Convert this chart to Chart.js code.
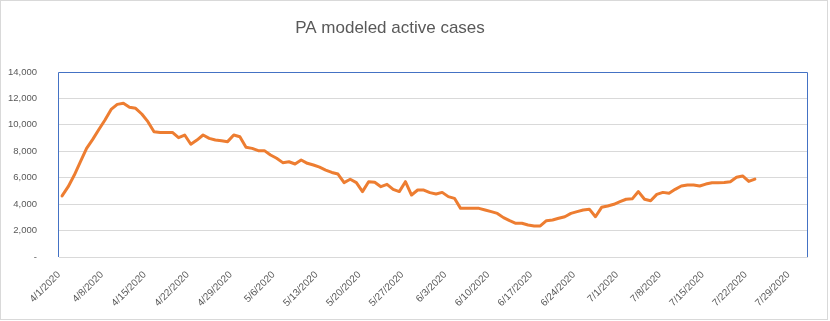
<!DOCTYPE html>
<html lang="en">
<head>
  <meta charset="UTF-8">
  <title>PA modeled active cases</title>
  <script src="https://cdn.jsdelivr.net/npm/chart.js"></script>
  <style>
    body { margin: 0; background: #fff; }
  </style>
</head>
<body>
<canvas id="casesChart" width="830" height="321"></canvas>

<script>
  // Weekly axis labels
  var tickLabels = ['4/1/2020', '4/8/2020', '4/15/2020', '4/22/2020', '4/29/2020', '5/6/2020',
    '5/13/2020', '5/20/2020', '5/27/2020', '6/3/2020', '6/10/2020', '6/17/2020', '6/24/2020',
    '7/1/2020', '7/8/2020', '7/15/2020', '7/22/2020', '7/29/2020'];

  // Modeled active cases, one value per day starting 4/1/2020
  var activeCases = [
    4620, 5320, 6200, 7210, 8220, 8900, 9650, 10370, 11170, 11550,
    11630, 11330, 11250, 10820, 10240, 9480, 9430, 9430, 9430, 9030,
    9230, 8530, 8850, 9230, 8980, 8850, 8790, 8730, 9230, 9100,
    8300, 8220, 8050, 8050, 7720, 7470, 7140, 7210, 7040, 7340,
    7090, 6960, 6800, 6580, 6400, 6280, 5630, 5880, 5630, 4950,
    5700, 5650, 5320, 5500, 5120, 4950, 5700, 4690, 5070, 5070,
    4870, 4770, 4890, 4570, 4440, 3680, 3680, 3680, 3680, 3560,
    3430, 3300, 2980, 2750, 2550, 2550, 2420, 2350, 2350, 2750,
    2800, 2930, 3050, 3300, 3430, 3560, 3620, 3050, 3760, 3860,
    3990, 4190, 4370, 4400, 4950, 4370, 4260, 4740, 4890, 4820,
    5120, 5370, 5450, 5450, 5370, 5520, 5620, 5620, 5630, 5700,
    6030, 6130, 5720, 5890
  ];

  var yTicks = [0, 2000, 4000, 6000, 8000, 10000, 12000, 14000];

  var fontFamily = "'Liberation Sans Narrow', 'Liberation Sans', sans-serif";
  var textColor = '#595959';

  // each day sits in the middle of its own slot on the date axis
  var points = activeCases.map(function(v, i) {
    return { x: i + 0.5, y: v };
  });

  // outer frame, plot border and the title
  var framePlugin = {
    id: 'frame',
    beforeDatasetsDraw: function(chart) {
      var ctx = chart.ctx, a = chart.chartArea;
      ctx.save();
      ctx.strokeStyle = '#4472C4';
      ctx.lineWidth = 1;
      ctx.beginPath();
      ctx.moveTo(a.left - 0.5, a.bottom);
      ctx.lineTo(a.left - 0.5, a.top + 0.5);
      ctx.lineTo(a.right + 0.5, a.top + 0.5);
      ctx.lineTo(a.right + 0.5, a.bottom);
      ctx.stroke();
      ctx.restore();
    },
    afterDraw: function(chart) {
      var ctx = chart.ctx;
      ctx.save();
      ctx.strokeStyle = '#D9D9D9';
      ctx.lineWidth = 1;
      ctx.strokeRect(0.5, 0.5, 827, 319);
      ctx.fillStyle = textColor;
      ctx.font = "17px " + fontFamily;
      ctx.textAlign = 'center';
      ctx.textBaseline = 'middle';
      ctx.fillText('PA modeled active cases', 390, 28);
      ctx.restore();
    }
  };

  var ctx = document.getElementById('casesChart').getContext('2d');
  new Chart(ctx, {
    type: 'line',
    data: {
      datasets: [{
        label: 'Active cases',
        data: points,
        borderColor: '#ED7D31',
        borderWidth: 3,
        borderJoinStyle: 'round',
        borderCapStyle: 'round',
        pointRadius: 0,
        tension: 0,
        fill: false
      }]
    },
    options: {
      responsive: false,
      animation: false,
      devicePixelRatio: 1,
      layout: { padding: { top: 72, right: 23, left: 0, bottom: 0 } },
      plugins: {
        legend: { display: false },
        title: { display: false },
        tooltip: { enabled: false }
      },
      scales: {
        x: {
          type: 'linear',
          min: 0,
          max: 122,
          afterBuildTicks: function(scale) {
            scale.ticks = tickLabels.map(function(_, i) { return { value: i * 7 }; });
          },
          afterFit: function(scale) { scale.height = 64; },
          grid: { display: false, drawTicks: false },
          border: { display: true, color: '#D9D9D9', width: 1 },
          ticks: {
            autoSkip: false,
            minRotation: 45,
            maxRotation: 45,
            padding: 12,
            color: textColor,
            font: { family: fontFamily, size: 10 },
            callback: function(value) { return tickLabels[Math.round(value / 7)]; }
          }
        },
        y: {
          min: 0,
          max: 14000,
          afterBuildTicks: function(scale) {
            scale.ticks = yTicks.map(function(v) { return { value: v }; });
          },
          afterFit: function(scale) { scale.width = 59; },
          grid: { color: '#D9D9D9', lineWidth: 1, drawTicks: false },
          border: { display: false },
          ticks: {
            padding: 22,
            color: textColor,
            font: { family: fontFamily, size: 9.5 },
            callback: function(value) {
              return value === 0 ? '-' : value.toLocaleString('en-US');
            }
          }
        }
      }
    },
    plugins: [framePlugin]
  });
</script>
</body>
</html>
